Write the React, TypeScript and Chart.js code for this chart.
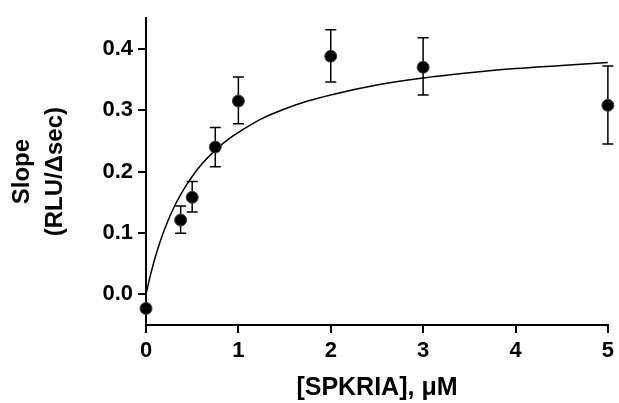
import React, { useEffect, useRef } from 'react';
import { Chart, registerables } from 'chart.js';

Chart.register(...registerables);

// Measured data points ([SPKRIA] in µM vs slope)
const xValues = [0, 0.375, 0.5, 0.75, 1, 2, 3, 5];
const yValues = [-0.023, 0.121, 0.158, 0.24, 0.315, 0.388, 0.37, 0.308];
const errUpper = [-0.023, 0.144, 0.184, 0.272, 0.354, 0.431, 0.418, 0.372];
const errLower = [-0.023, 0.0995, 0.134, 0.208, 0.278, 0.346, 0.325, 0.245];

// Fitted curve
const curveX = [0, 0.05, 0.1, 0.15, 0.2, 0.3, 0.4, 0.5, 0.6, 0.75, 0.9, 1, 1.25, 1.5, 1.75, 2, 2.5, 3, 3.5, 4, 4.5, 5];
const curveY = [0, 0.0325, 0.0604, 0.0846, 0.1058, 0.141, 0.169, 0.192, 0.2115, 0.235, 0.2538, 0.264, 0.286, 0.302, 0.315, 0.325, 0.341, 0.3525, 0.361, 0.368, 0.373, 0.378];

const xTicks = [0, 1, 2, 3, 4, 5];
const yTicks = [0, 0.1, 0.2, 0.3, 0.4];

const FONT = '"Liberation Sans", Arial, sans-serif';

const errorBarPlugin = {
  id: 'errorBars',
  beforeDatasetsDraw(chart: any) {
    const { ctx, scales } = chart;
    const xs = scales.x;
    const ys = scales.y;
    ctx.save();
    ctx.strokeStyle = '#000';
    ctx.lineWidth = 1.5;
    xValues.forEach((xv, i) => {
      const px = xs.getPixelForValue(xv);
      const top = ys.getPixelForValue(errUpper[i]);
      const bot = ys.getPixelForValue(errLower[i]);
      if (Math.abs(top - bot) < 1) return;
      ctx.beginPath();
      ctx.moveTo(px, top);
      ctx.lineTo(px, bot);
      ctx.moveTo(px - 5.5, top);
      ctx.lineTo(px + 5.5, top);
      ctx.moveTo(px - 5.5, bot);
      ctx.lineTo(px + 5.5, bot);
      ctx.stroke();
    });
    ctx.restore();
  },
};

export default function App() {
  const ref = useRef<HTMLCanvasElement>(null);

  useEffect(() => {
    if (!ref.current) return;
    const chart = new Chart(ref.current, {
      type: 'scatter',
      data: {
        datasets: [
          {
            data: xValues.map((x, i) => ({ x, y: yValues[i] })),
            showLine: false,
            pointRadius: 6,
            pointHoverRadius: 6,
            backgroundColor: '#000',
            borderColor: '#444',
            borderWidth: 1,
            clip: false as any,
            order: 0,
          },
          {
            data: curveX.map((x, i) => ({ x, y: curveY[i] })),
            showLine: true,
            pointRadius: 0,
            borderColor: '#000',
            borderWidth: 1.5,
            cubicInterpolationMode: 'monotone',
            fill: false,
            order: 1,
          },
        ],
      },
      options: {
        responsive: false,
        animation: false,
        layout: { padding: { left: 0, right: 11, top: 18, bottom: 0 } },
        plugins: {
          legend: { display: false },
          tooltip: { enabled: false },
        },
        scales: {
          x: {
            type: 'linear',
            min: 0,
            max: 5,
            afterBuildTicks: (s: any) => {
              s.ticks = xTicks.map((v) => ({ value: v }));
            },
            afterFit: (s: any) => {
              s.height = 78;
            },
            grid: {
              display: true,
              drawOnChartArea: false,
              drawTicks: true,
              tickLength: 8,
              color: '#000',
              lineWidth: 2,
            },
            border: { display: true, color: '#000', width: 2 },
            ticks: {
              color: '#000',
              font: { family: FONT, size: 22, weight: 'bold' },
              padding: 5,
              maxRotation: 0,
              autoSkip: false,
              callback: (v: any) => String(v),
            },
            title: {
              display: true,
              text: '[SPKRIA], μM',
              color: '#000',
              font: { family: FONT, size: 25, weight: 'bold' },
              padding: { top: 0, bottom: 0 },
            },
          },
          y: {
            type: 'linear',
            min: -0.05,
            max: 0.45,
            afterBuildTicks: (s: any) => {
              s.ticks = yTicks.map((v) => ({ value: v }));
            },
            afterFit: (s: any) => {
              s.width = 146;
            },
            grid: {
              display: true,
              drawOnChartArea: false,
              drawTicks: true,
              tickLength: 8,
              color: '#000',
              lineWidth: 2,
            },
            border: { display: true, color: '#000', width: 2 },
            ticks: {
              color: '#000',
              font: { family: FONT, size: 22, weight: 'bold' },
              padding: 5,
              autoSkip: false,
              callback: (v: any) => Number(v).toFixed(1),
            },
            title: {
              display: true,
              text: ['Slope', '(RLU/Δsec)'],
              color: '#000',
              font: { family: FONT, size: 24, weight: 'bold', lineHeight: 1.375 },
              padding: { top: 6, bottom: 0 },
            },
          },
        },
      },
      plugins: [errorBarPlugin],
    } as any);
    return () => chart.destroy();
  }, []);

  return (
    <div style={{ position: 'absolute', left: 0, top: 0, width: 619, height: 403 }}>
      <canvas ref={ref} width={619} height={403} style={{ width: 619, height: 403, display: 'block' }} />
    </div>
  );
}
